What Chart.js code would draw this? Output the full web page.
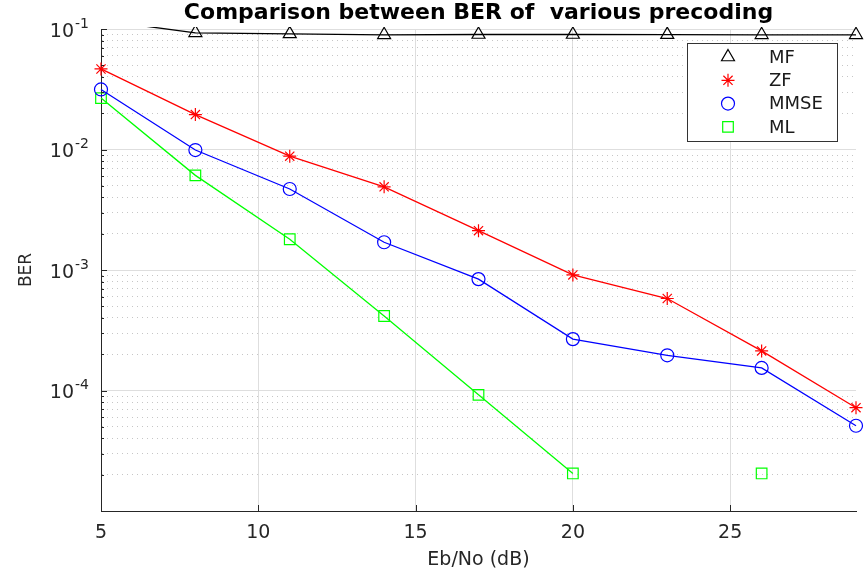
<!DOCTYPE html>
<html>
<head>
<meta charset="utf-8">
<script src="https://cdn.jsdelivr.net/npm/chart.js@4.4.1/dist/chart.umd.min.js"></script>
<style>
  body { margin: 0; background: #fff; }
  #wrap { width: 867px; height: 579px; }
</style>
</head>
<body>
<div id="wrap"><canvas id="myChart"></canvas></div>
<script>
// Eb/No points (dB)
var ebno = [5, 8, 11, 14, 17, 20, 23, 26, 29]
var xTicks = [5, 10, 15, 20, 25]

// BER
var berMF   = [0.118, 0.093, 0.091, 0.0895, 0.09, 0.09, 0.0898, 0.0895, 0.0895]
var berZF   = [0.0466, 0.0195, 0.0088, 0.0049, 0.00212, 0.00091, 0.00058, 0.000213, 0.000072]
var berMMSE = [0.0315, 0.0099, 0.0047, 0.0017, 0.00084, 0.000267, 0.000196, 0.000154, 0.000051]
var berML   = [0.0267, 0.0061, 0.0018, 0.000415, 0.000092, 0.0000205, null, 0.0000205, null]

var seriesNames = ['MF', 'ZF', 'MMSE', 'ML']
var decades = [-5, -4, -3, -2, -1]
var labelledDecades = [-4, -3, -2, -1]

var txt = '#262626'
Chart.defaults.font.family = "'DejaVu Sans', sans-serif"
Chart.defaults.color = txt

function pts(arr){
    return ebno.map(function(x, i){ return {x: x, y: arr[i]} })
}

// draws a marker like the chart does, for the legend
function marker(ctx, style, x, y, r){
    ctx.beginPath()
    if (style == 'triangle') {
        ctx.moveTo(x, y - r)
        ctx.lineTo(x + r * 0.866, y + r * 0.5)
        ctx.lineTo(x - r * 0.866, y + r * 0.5)
        ctx.closePath()
    } else if (style == 'circle') {
        ctx.arc(x, y, r, 0, Math.PI * 2)
    } else if (style == 'rect') {
        var s = r * Math.SQRT1_2
        ctx.rect(x - s, y - s, 2 * s, 2 * s)
    } else if (style == 'star') {
        for (var k = 0; k < 4; k++) {
            var a = k * Math.PI / 4
            ctx.moveTo(x + Math.cos(a) * r, y + Math.sin(a) * r)
            ctx.lineTo(x - Math.cos(a) * r, y - Math.sin(a) * r)
        }
    }
    ctx.stroke()
}

var extras = {
    id: 'extras',
    afterDraw: function(chart){
        var ctx = chart.ctx
        var area = chart.chartArea
        var ys = chart.scales.y
        var xs = chart.scales.x
        ctx.save()

        // inward tick marks
        ctx.strokeStyle = txt
        ctx.lineWidth = 1
        ys.ticks.forEach(function(t){
            var py = Math.round(ys.getPixelForValue(t.value)) + 0.5
            ctx.beginPath()
            ctx.moveTo(area.left, py)
            ctx.lineTo(area.left + (t.major ? 6 : 3), py)
            ctx.stroke()
        })
        xs.ticks.forEach(function(t){
            var px = Math.round(xs.getPixelForValue(t.value)) + 0.5
            ctx.beginPath()
            ctx.moveTo(px, area.bottom)
            ctx.lineTo(px, area.bottom - 6)
            ctx.stroke()
        })

        // 10^n labels
        ctx.fillStyle = txt
        labelledDecades.forEach(function(e){
            var py = ys.getPixelForValue(Math.pow(10, e))
            ctx.textBaseline = 'middle'
            ctx.textAlign = 'right'
            ctx.font = "19px 'DejaVu Sans'"
            ctx.fillText('10', 74, py + 3)
            ctx.textAlign = 'left'
            ctx.font = "14px 'DejaVu Sans'"
            ctx.fillText(String(e), 75, py - 5)
        })

        // legend box
        var ds = chart.data.datasets
        var bx = area.right - 169, by = area.top + 14, bw = 150, bh = 98
        ctx.fillStyle = '#fff'
        ctx.fillRect(bx, by, bw, bh)
        ctx.strokeStyle = '#333'
        ctx.strokeRect(bx + 0.5, by + 0.5, bw, bh)
        ds.forEach(function(d, i){
            var ry = by + 14 + i * 23.3
            ctx.strokeStyle = d.borderColor
            ctx.lineWidth = 1.2
            marker(ctx, d.pointStyle, bx + 41, ry, d.pointRadius)
            ctx.fillStyle = '#1a1a1a'
            ctx.font = "18px 'DejaVu Sans'"
            ctx.textAlign = 'left'
            ctx.textBaseline = 'middle'
            ctx.fillText(d.label, bx + 82, ry + 1)
        })
        ctx.restore()
    }
}

function setChart(){
    var ctx = document.getElementById('myChart')
    var myChart = new Chart(ctx, {
    type: 'line',
    data: {
        datasets: [{
            label: seriesNames[0],
            data: pts(berMF),
            borderColor: '#000000',
            borderWidth: 1.3,
            pointStyle: 'triangle',
            pointRadius: 7.5,
            radius: function(c){ return c.dataIndex === 0 ? 0 : 7.5 },
            pointBackgroundColor: 'rgba(0,0,0,0)',
            pointBorderWidth: 1.2,
            clip: {left: 10, right: 12, top: 2, bottom: 10},
        }, {
            label: seriesNames[1],
            data: pts(berZF),
            borderColor: '#ff0000',
            borderWidth: 1.3,
            pointStyle: 'star',
            pointRadius: 6.5,
            pointBackgroundColor: 'rgba(0,0,0,0)',
            pointBorderWidth: 1.2,
            clip: 12,
        }, {
            label: seriesNames[2],
            data: pts(berMMSE),
            borderColor: '#0000ff',
            borderWidth: 1.3,
            pointStyle: 'circle',
            pointRadius: 6.5,
            pointBackgroundColor: 'rgba(0,0,0,0)',
            pointBorderWidth: 1.2,
            clip: 12,
        }, {
            label: seriesNames[3],
            data: pts(berML),
            borderColor: '#00ff00',
            borderWidth: 1.3,
            pointStyle: 'rect',
            pointRadius: 7.5,
            pointBackgroundColor: 'rgba(0,0,0,0)',
            pointBorderWidth: 1.2,
            spanGaps: false,
            clip: 12,
        }],
    },
    options: {
        responsive: true,
        maintainAspectRatio: false,
        animation: false,
        layout: { padding: {left: 0, right: 11, top: 0, bottom: 0} },
        elements: { line: { tension: 0 } },
        plugins: {
            legend: { display: false },
            tooltip: { enabled: false },
            title: {
                display: true,
                text: 'Comparison between BER of  various precoding',
                fullSize: false,
                color: '#000',
                font: { size: 22, weight: 'bold' },
                padding: {top: 0, bottom: 2.6},
            },
        },
        scales: {
            x: {
                type: 'linear',
                min: 5,
                max: 29,
                afterBuildTicks: function(s){
                    s.ticks = xTicks.map(function(v){ return {value: v} })
                },
                afterFit: function(s){ s.height = 68 },
                ticks: { padding: 11, font: { size: 19 }, color: txt },
                grid: { color: '#dedede', drawTicks: false, lineWidth: 1 },
                border: { color: '#262626', width: 1 },
                title: {
                    display: true,
                    text: 'Eb/No (dB)',
                    font: { size: 19 },
                    color: txt,
                    padding: {top: 0, bottom: 8},
                },
            },
            y: {
                type: 'logarithmic',
                min: 1e-5,
                max: 1e-1,
                afterBuildTicks: function(s){
                    var t = []
                    decades.forEach(function(e){
                        for (var m = 1; m <= 9; m++) {
                            if (e === -1 && m > 1) break
                            t.push({value: Number((m * Math.pow(10, e)).toPrecision(3)), major: m === 1})
                        }
                    })
                    s.ticks = t
                },
                afterFit: function(s){ s.width = 101 },
                ticks: { display: false },
                grid: {
                    drawTicks: false,
                    lineWidth: 1,
                    color: function(c){ return c.tick && c.tick.major ? '#dedede' : '#c6c6c6' },
                },
                border: {
                    color: '#262626',
                    width: 1,
                    dash: function(c){ return c.tick && !c.tick.major ? [1, 4] : [] },
                },
                title: {
                    display: true,
                    text: 'BER',
                    font: { size: 17 },
                    color: txt,
                    padding: {top: 16, bottom: 0},
                },
            },
        },
    },
    plugins: [extras],
    });
}

setChart()
</script>
</body>
</html>
